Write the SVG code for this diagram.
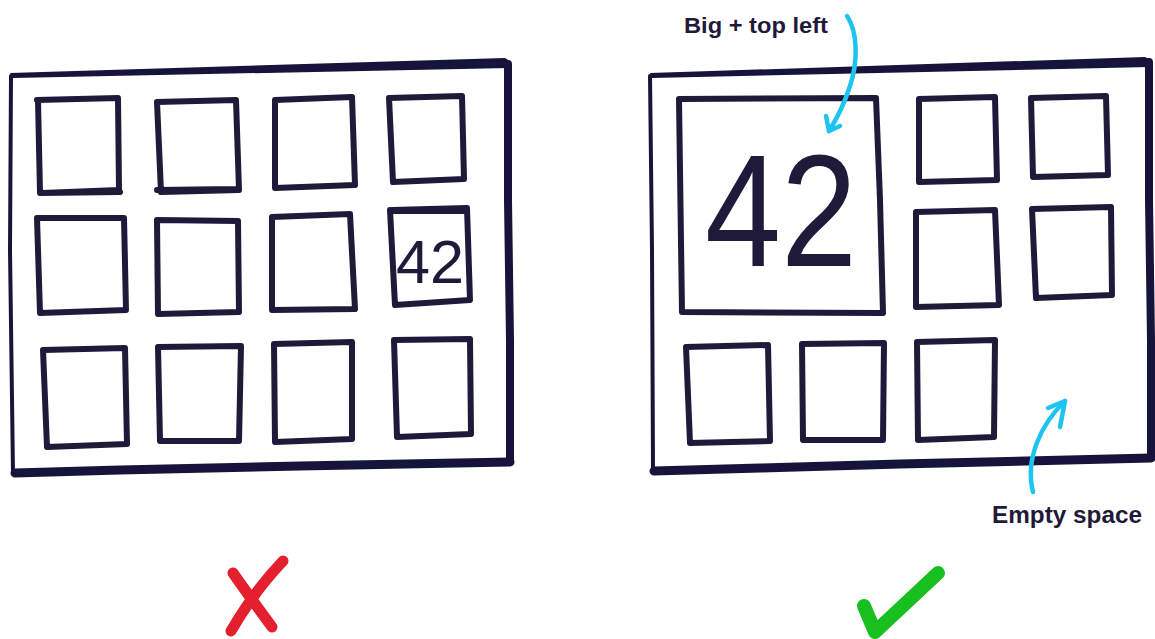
<svg xmlns="http://www.w3.org/2000/svg" width="1155" height="639" viewBox="0 0 1155 639">
<style>
.frame{fill:none;stroke:#17143b;stroke-linecap:round;stroke-linejoin:round}
.box{fill:none;stroke:#1f1a3a;stroke-width:6;stroke-linecap:round;stroke-linejoin:round}
.num{font-family:"Liberation Sans",Arial,sans-serif;fill:#1f1a3a}
.lbl{font-family:"Liberation Sans",Arial,sans-serif;font-weight:bold;fill:#1f1a3a}
.arrow{fill:none;stroke:#1ec4f0;stroke-width:4.5;stroke-linecap:round;stroke-linejoin:round}
</style>
<rect width="1155" height="639" fill="#ffffff"/>

<g id="left-panel">
  <g id="left-frame">
    <polygon points="10,73 505,58 511,62 510,68 13,78" fill="#17143b"/>
    <path class="frame" stroke-width="8" d="M508,64 L508,200 L510,340 L510,462"/>
    <path class="frame" stroke-width="9" d="M510,462 L300,466 L120,470 L15,473"/>
    <path class="frame" stroke-width="4" d="M11,76 L10,250 L13,473"/>
  </g>
  <g id="l-box-1"><path class="box" d="M37,100 L118,98 L119,190 L42,193 M120,192 L40,193 L38,100"/></g>
  <g id="l-box-2"><path class="box" d="M157,102 L236,100 L239,190 L161,192 L157,102 M157,190 L236,189"/></g>
  <g id="l-box-3"><path class="box" d="M275,100 L352,97 L355,185 L275,188 Z"/></g>
  <g id="l-box-4"><path class="box" d="M389,98 L462,96 L464,179 L393,182 L389,98 Z"/></g>
  <g id="l-box-5"><path class="box" d="M37,218 L124,218 L126,310 L40,313 L37,218 Z"/></g>
  <g id="l-box-6"><path class="box" d="M157,220 L238,221 L239,312 L158,314 Z"/></g>
  <g id="l-box-7"><path class="box" d="M272,217 L350,214 L355,309 L272,310 Z"/></g>
  <g id="l-box-8">
    <path class="box" d="M392,210 L467,208 L470,300 L395,305 L390,210 M394,211 L467,211"/>
    <text class="num" x="396" y="283" font-size="62" textLength="68" lengthAdjust="spacingAndGlyphs">42</text>
  </g>
  <g id="l-box-9"><path class="box" d="M43,350 L125,348 L127,444 L47,447 L43,350 Z"/></g>
  <g id="l-box-10"><path class="box" d="M158,347 L241,346 L239,441 L160,441 Z"/></g>
  <g id="l-box-11"><path class="box" d="M274,344 L352,342 L352,439 L275,442 Z"/></g>
  <g id="l-box-12"><path class="box" d="M394,340 L470,339 L471,434 L397,437 L394,340 Z"/></g>
  <g id="cross">
    <path d="M233,573 Q252,600 272,627" fill="none" stroke="#e5202e" stroke-width="11" stroke-linecap="round"/>
    <path d="M283,561 Q255,590 231,631" fill="none" stroke="#e5202e" stroke-width="11" stroke-linecap="round"/>
  </g>
</g>

<g id="right-panel">
  <g id="right-frame">
    <polygon points="650,73 1145,57 1151,60 1150,67 652,78" fill="#17143b"/>
    <path class="frame" stroke-width="8" d="M1149,62 L1149,200 L1151,340 L1151,458"/>
    <path class="frame" stroke-width="9" d="M1151,458 L900,464 L760,468 L654,471"/>
    <path class="frame" stroke-width="4" d="M650,76 L652,250 L653,470"/>
  </g>
  <g id="big-box">
    <path class="box" d="M679,99 L876,98 L880,200 L883,313 L682,312 L679,99"/>
    <text class="num" x="705" y="266" font-size="160" textLength="152" lengthAdjust="spacingAndGlyphs">42</text>
  </g>
  <g id="r-box-1"><path class="box" d="M919,99 L995,97 L997,180 L919,182 Z"/></g>
  <g id="r-box-2"><path class="box" d="M1031,98 L1106,96 L1108,175 L1033,177 Z"/></g>
  <g id="r-box-3"><path class="box" d="M916,212 L995,210 L999,305 L916,307 Z"/></g>
  <g id="r-box-4"><path class="box" d="M1032,209 L1111,207 L1112,295 L1036,298 Z"/></g>
  <g id="r-box-5"><path class="box" d="M686,347 L768,345 L770,441 L690,443 Z"/></g>
  <g id="r-box-6"><path class="box" d="M802,344 L884,343 L883,440 L803,440 Z"/></g>
  <g id="r-box-7"><path class="box" d="M917,342 L995,340 L994,437 L918,440 Z"/></g>
  <g id="label-big">
    <text class="lbl" x="684" y="33" font-size="22" textLength="144" lengthAdjust="spacingAndGlyphs">Big + top left</text>
  </g>
  <g id="label-empty">
    <text class="lbl" x="992" y="523" font-size="23" textLength="150" lengthAdjust="spacingAndGlyphs">Empty space</text>
  </g>
  <g id="check">
    <path d="M864,606 L875,632 L938,573" fill="none" stroke="#18c01f" stroke-width="14" stroke-linecap="round" stroke-linejoin="round"/>
  </g>
</g>

<g id="connectors">
  <path class="arrow" d="M847,16 C858,32 858,62 850,86 C844,105 836,120 829,131"/>
  <path class="arrow" d="M826,116 L829,131 L840,126"/>
  <path class="arrow" d="M1033,492 C1025,460 1040,425 1065,401"/>
  <path class="arrow" d="M1048,408 L1065,401 L1060,427"/>
</g>
</svg>
